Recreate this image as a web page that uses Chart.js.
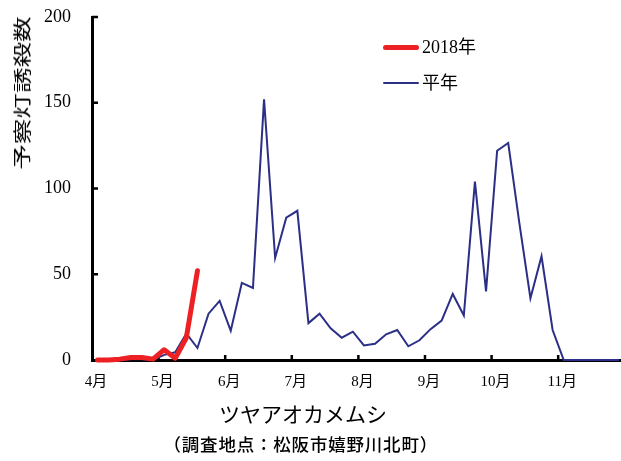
<!DOCTYPE html>
<html><head><meta charset="utf-8">
<script src="https://cdn.jsdelivr.net/npm/chart.js@4.4.1/dist/chart.umd.min.js"></script>
<style>
html,body{margin:0;padding:0;background:#fff;overflow:hidden;}
#wrap{position:relative;width:621px;height:461px;}
canvas{position:absolute;left:0;top:0;}
.t{position:absolute;white-space:nowrap;color:#000;line-height:1;}
.lg{position:absolute;left:383px;height:20px;}
.lg span.line{position:absolute;left:0;width:36px;border-radius:3px;}
.lg span.txt{position:absolute;left:39px;top:0px;font:18px "Liberation Serif","Noto Sans CJK JP",serif;white-space:nowrap;line-height:18px;}
</style></head><body>
<div id="wrap">
<canvas id="c" width="621" height="461"></canvas>
<div id="ytitle" class="t"></div>
<div id="legend"></div>
<div id="xtitle" class="t"></div>
<div id="sub" class="t"></div>
</div>
<script>
// ---- data ----
const monthLabels = ['4月','5月','6月','7月','8月','9月','10月','11月'];
const periodsPerMonth = 6; // 半旬
const seriesNames = ['2018年','平年'];
const values2018 = [0,0,0.5,1.5,1.5,0.5,6,1,13,52];
const valuesNormal = [0,0,0,0.5,0.5,0,3,4.5,15.5,7,27,34.5,17,45,42,152,59.5,83,87,21.5,27,18.5,13,16.5,8.5,9.5,15,17.5,8,11.5,18,23,38.5,26,104,40,122,126.5,80,36,60.5,17.5,0,0,0,0,0,0];
const yTicks = [0,50,100,150,200];
const yTitle = '予察灯誘殺数';
const xTitle = 'ツヤアオカメムシ';
const subTitle = '（調査地点：松阪市嬉野川北町）';
const colors = ['#ED2024','#2B2F85'];
const widths = [5,2];

const toPts = arr => arr.map((v,i)=>({x:i+0.5,y:v}));
const monthTicks = monthLabels.map((_,k)=>k*periodsPerMonth);

const innerTicks = {
  id:'innerTicks',
  beforeDatasetsDraw(chart){
    const {ctx, chartArea, scales:{x,y}} = chart;
    ctx.save();
    ctx.strokeStyle='#000'; ctx.lineWidth=2.5;
    ctx.beginPath();
    monthTicks.forEach(v=>{ if(v===0) return; const px=x.getPixelForValue(v); ctx.moveTo(px,chartArea.bottom); ctx.lineTo(px,chartArea.bottom-5); });
    yTicks.forEach(v=>{ if(v===0) return; const py=y.getPixelForValue(v); ctx.moveTo(chartArea.left,py); ctx.lineTo(chartArea.left+6,py); });
    ctx.stroke();
    ctx.restore();
  }
};

const chart = new Chart(document.getElementById('c'),{
  type:'line',
  data:{datasets:[
    {label:seriesNames[0],data:toPts(values2018),borderColor:colors[0],backgroundColor:colors[0],borderWidth:widths[0],pointRadius:0,tension:0,clip:false,order:0,borderCapStyle:'round',borderJoinStyle:'round'},
    {label:seriesNames[1],data:toPts(valuesNormal),borderColor:colors[1],backgroundColor:colors[1],borderWidth:widths[1],pointRadius:0,tension:0,clip:false,order:1}
  ]},
  options:{
    responsive:false, animation:false, devicePixelRatio:1,
    layout:{padding:{top:17,right:0,left:0,bottom:0}},
    plugins:{legend:{display:false},tooltip:{enabled:false}},
    scales:{
      x:{type:'linear',min:0,max:47.66,
        afterBuildTicks(s){ s.ticks = monthTicks.map(v=>({value:v})); },
        afterFit(s){ s.height=101; s.paddingLeft=0; s.paddingRight=0; },
        ticks:{callback:(v)=>monthLabels[Math.round(v/periodsPerMonth)],padding:13,labelOffset:4,maxRotation:0,autoSkip:false,color:'#000',font:{family:'"Liberation Serif","Noto Sans CJK JP"',size:15}},
        grid:{display:false,drawTicks:false},
        border:{display:true,color:'#000',width:3}
      },
      y:{type:'linear',min:0,max:200,
        afterBuildTicks(s){ s.ticks = yTicks.map(v=>({value:v})); },
        afterFit(s){ s.width=92; s.paddingTop=0; s.paddingBottom=0; },
        ticks:{padding:21,color:'#000',font:{family:'"Liberation Serif"',size:18}},
        grid:{display:false,drawTicks:false},
        border:{display:true,color:'#000',width:3}
      }
    }
  },
  plugins:[innerTicks]
});

// legend built from datasets
const lg = document.getElementById('legend');
const lgY = [38,74];
chart.data.datasets.forEach((d,i)=>{
  const el=document.createElement('div'); el.className='lg'; el.style.top=lgY[i]+'px';
  const ln=document.createElement('span'); ln.className='line';
  ln.style.background=d.borderColor; ln.style.height=d.borderWidth+'px'; ln.style.top=(9-d.borderWidth/2)+'px';
  const tx=document.createElement('span'); tx.className='txt'; tx.textContent=d.label;
  el.appendChild(ln); el.appendChild(tx); lg.appendChild(el);
});

const yt=document.getElementById('ytitle');
yt.textContent=yTitle;
yt.style.font='18px "Noto Sans CJK JP"';
yt.style.left='0px'; yt.style.top='0px';
yt.style.transformOrigin='0 0';
const w=yt.offsetWidth, h=yt.offsetHeight, sx=1.42;
yt.style.transform=`translate(${21-h/2}px, ${93+w*sx/2}px) rotate(-90deg) scaleX(${sx})`;

const xt=document.getElementById('xtitle');
xt.textContent=xTitle; xt.style.font='21px "Noto Sans CJK JP"';
xt.style.left=(303-xt.offsetWidth/2)+'px'; xt.style.top=(413-xt.offsetHeight/2)+'px';

const st=document.getElementById('sub');
st.textContent=subTitle; st.style.font='500 17.5px "Noto Sans CJK JP"'; st.style.letterSpacing='0.8px';
st.style.left=(301-st.offsetWidth/2)+'px'; st.style.top=(443-st.offsetHeight/2)+'px';
</script>
</body></html>
